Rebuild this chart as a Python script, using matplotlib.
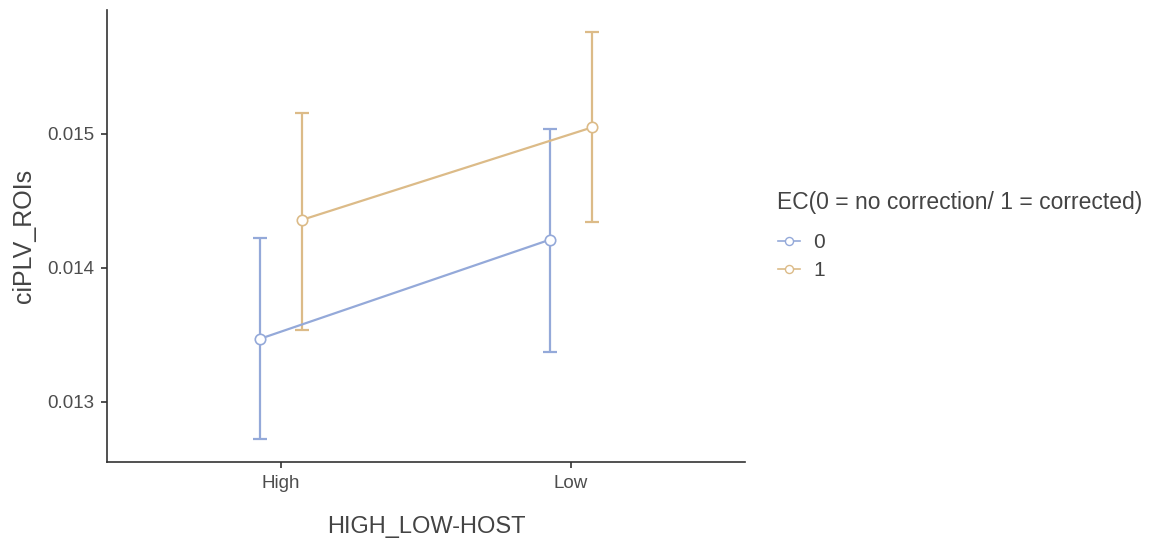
import numpy as np
import matplotlib.pyplot as plt
from matplotlib.lines import Line2D

plt.rcParams['font.family'] = ['Liberation Sans', 'DejaVu Sans']

# categorías y grupos
categories = ['High', 'Low']
groups = ['0', '1']
colors = ['#94a9d9', '#dcbb88']

# medias e intervalos
means = {'0': [0.01347, 0.01421], '1': [0.01436, 0.01505]}
upper = {'0': [0.01422, 0.01504], '1': [0.01516, 0.01576]}
lower = {'0': [0.01272, 0.01337], '1': [0.01354, 0.01434]}

fig = plt.figure(figsize=(11.57, 5.38), dpi=100)
# eje: izquierda 107 px, abajo 462 px, arriba 10 px
ax = fig.add_axes([107 / 1157, 76 / 538, 638 / 1157, 452 / 538])

x = np.arange(len(categories))
dodge = 0.074
for i, g in enumerate(groups):
    xs = x + (i - 0.5) * 2 * dodge
    m = np.array(means[g])
    yerr = [m - np.array(lower[g]), np.array(upper[g]) - m]
    ax.errorbar(xs, m, yerr=yerr, fmt='none', ecolor=colors[i],
                elinewidth=1.6, capsize=5, capthick=1.6, zorder=2)
    ax.plot(xs, m, color=colors[i], lw=1.6, zorder=3)
    ax.plot(xs, m, 'o', ms=7.5, mfc='white', mec=colors[i], mew=1.2, zorder=4)

ax.set_xlim(-0.6, 1.6)
ax.set_ylim(0.012552, 0.015925)
ax.set_xticks(x)
ax.set_xticklabels(categories)
ax.set_yticks([0.013, 0.014, 0.015])
ax.set_yticklabels(['0.013', '0.014', '0.015'])
ax.tick_params(labelsize=13.5, labelcolor='#4d4d4d', color='#333333',
               length=4.3, width=1.2, pad=5)
for s in ['top', 'right']:
    ax.spines[s].set_visible(False)
for s in ['left', 'bottom']:
    ax.spines[s].set_color('#333333')
    ax.spines[s].set_linewidth(1.2)

ax.set_xlabel('HIGH_LOW-HOST', fontsize=17, color='#444444', labelpad=17)
ax.set_ylabel('ciPLV_ROIs', fontsize=18, color='#444444', labelpad=8)

# leyenda: título aparte y entradas debajo
fig.text(777 / 1157, 1 - 203 / 538, 'EC(0 = no correction/ 1 = corrected)',
         fontsize=16.5, color='#444444', ha='left', va='center')
handles = [Line2D([0], [0], color=c, lw=1.2, marker='o', ms=5.8, mfc='white',
                  mec=c, mew=1.0) for c in colors]
leg = fig.legend(handles, groups, loc='upper left',
                 bbox_to_anchor=(778 / 1157, 1 - 233 / 538), frameon=False,
                 fontsize=15, handlelength=1.06, handletextpad=0.62,
                 labelspacing=0.44, borderaxespad=0, borderpad=0)
for t in leg.get_texts():
    t.set_color('#444444')

fig.savefig('out.png', dpi=100)
